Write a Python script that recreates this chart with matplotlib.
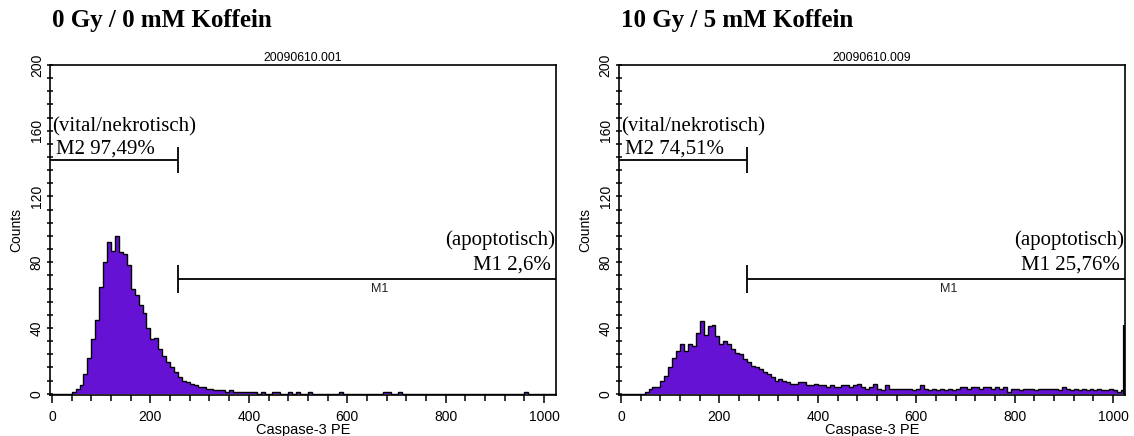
import numpy as np
import matplotlib.pyplot as plt
from matplotlib.ticker import MultipleLocator

# Histogramm-Daten (Kanalbreite 8, Kanal 0..1024)
bin_width = 8
edges = np.arange(0, 1024 + bin_width, bin_width)

counts_0gy = [
    0, 0, 0, 0, 0, 1, 3, 5, 12, 22, 33, 45, 65, 80, 92, 87,
    96, 86, 85, 78, 64, 60, 54, 49, 40, 33, 34, 27, 23, 19, 16, 13,
    10, 8, 7, 6, 5, 4, 4, 3, 3, 2, 2, 2, 1, 2, 1, 1,
    1, 1, 1, 1, 0, 1, 0, 0, 1, 1, 0, 0, 1, 0, 1, 0,
    0, 1, 0, 0, 0, 0, 0, 0, 0, 1, 0, 0, 0, 0, 0, 0,
    0, 0, 0, 0, 1, 1, 0, 0, 1, 0, 0, 0, 0, 0, 0, 0,
    0, 0, 0, 0, 0, 0, 0, 0, 0, 0, 0, 0, 0, 0, 0, 0,
    0, 0, 0, 0, 0, 0, 0, 0, 1, 0, 0, 0, 0, 0, 0, 0,
]
counts_10gy = [
    0, 0, 0, 0, 0, 0, 1, 3, 4, 4, 8, 11, 16, 22, 26, 30,
    26, 30, 29, 37, 44, 36, 41, 42, 35, 30, 32, 30, 27, 25, 24, 21,
    19, 17, 16, 15, 13, 12, 10, 8, 9, 8, 7, 6, 6, 7, 7, 5,
    5, 6, 5, 5, 4, 5, 4, 4, 5, 5, 4, 5, 6, 4, 3, 4,
    6, 3, 2, 5, 3, 3, 3, 3, 3, 3, 2, 3, 5, 3, 2, 3,
    2, 3, 2, 3, 2, 3, 4, 4, 3, 4, 4, 3, 4, 4, 3, 4,
    3, 4, 1, 3, 3, 2, 3, 3, 3, 2, 3, 3, 3, 3, 3, 2,
    4, 3, 2, 3, 2, 3, 2, 3, 2, 3, 2, 2, 3, 2, 1, 2,
]
# Ereignisse im letzten Kanal (1023)
overflow = [0, 42]

titles = ["0 Gy / 0 mM Koffein", "10 Gy / 5 mM Koffein"]
files = ["20090610.001", "20090610.009"]
m2_text = ["M2 97,49%", "M2 74,51%"]
m1_text = ["M1 2,6%", "M1 25,76%"]

gate = 257      # Grenze M2 / M1
m2_level = 142
m1_level = 70

purple = "#6612D4"
sans = "Liberation Sans"
serif = "Liberation Serif"

fig = plt.figure(figsize=(11.34, 4.36), dpi=100)
W, H = 1134, 436
lefts = [50, 619]
all_counts = [counts_0gy, counts_10gy]

for i in range(2):
    l = lefts[i]
    ax = fig.add_axes([l / W, 1 - 395 / H, 506 / W, 330 / H])
    c = all_counts[i]
    ax.stairs(c, edges, fill=True, color=purple, lw=0)
    ax.stairs(c, edges, color="black", lw=1.0)
    if overflow[i] > 0:
        ax.vlines(1022, 0, overflow[i], color="black", lw=1.6)

    # Marker M2
    ax.hlines(m2_level, -4, gate, color="black", lw=1.3)
    ax.vlines(gate, m2_level - 8, m2_level + 8, color="black", lw=1.3)
    # Marker M1
    ax.hlines(m1_level, gate, 1024, color="black", lw=1.3)
    ax.vlines(gate, m1_level - 8.5, m1_level + 8.5, color="black", lw=1.3)
    ax.text(665, m1_level - 6.5, "M1", fontsize=9, family=sans,
            ha="center", va="center", color="#222222")

    ax.text(1, 162.5, "(vital/nekrotisch)", fontsize=15, family=serif,
            ha="left", va="center")
    ax.text(8, 149, m2_text[i], fontsize=15, family=serif,
            ha="left", va="center")
    ax.text(1023, 93.5, "(apoptotisch)", fontsize=15, family=serif,
            ha="right", va="center")
    ax.text(1014, 78, m1_text[i], fontsize=15, family=serif,
            ha="right", va="center")

    ax.set_xlim(-4, 1024)
    ax.set_ylim(-0.8, 200)
    ax.xaxis.set_major_locator(MultipleLocator(200))
    ax.xaxis.set_minor_locator(MultipleLocator(40))
    ax.yaxis.set_major_locator(MultipleLocator(40))
    ax.yaxis.set_minor_locator(MultipleLocator(8))
    ax.tick_params(axis="x", which="major", direction="out", length=6,
                   width=1.1, labelsize=10, pad=5)
    ax.tick_params(axis="x", which="minor", direction="out", length=4, width=1.1)
    ax.tick_params(axis="y", which="both", direction="inout", length=5,
                   width=1.1, labelsize=10, pad=2)
    ax.tick_params(axis="y", labelrotation=90)
    for lab in ax.get_yticklabels():
        lab.set_va("center")
    for lab in ax.get_xticklabels() + ax.get_yticklabels():
        lab.set_family(sans)
    for s in ax.spines.values():
        s.set_linewidth(1.2)

    ax.set_title(files[i], fontsize=8.8, family=sans, pad=3)
    ax.set_xlabel("Caspase-3 PE", fontsize=10.5, family=sans, labelpad=-1)
    ax.set_ylabel("Counts", fontsize=10, family=sans)
    ax.yaxis.set_label_coords(-0.052, 0.5)

    fig.text((l + 2) / W, 1 - 20.5 / H, titles[i], fontsize=18, fontweight="bold",
             family=serif, ha="left", va="center")

fig.savefig("out.png", dpi=100)
